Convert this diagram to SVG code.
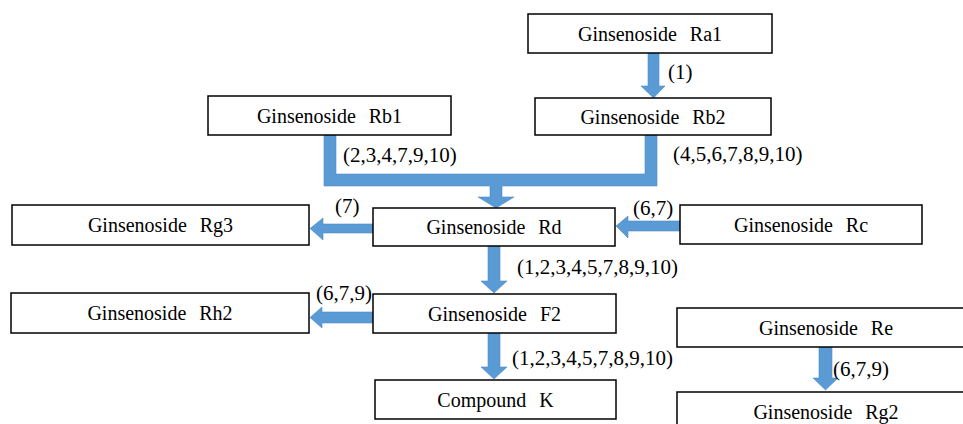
<svg xmlns="http://www.w3.org/2000/svg" width="963" height="424" viewBox="0 0 963 424">
<style>
.box{fill:#fff;stroke:#000;stroke-width:1.5}
.t{font-family:"Liberation Serif","Times New Roman",serif;font-size:20px;text-anchor:middle;fill:#000;word-spacing:8px}
.l{font-family:"Liberation Serif","Times New Roman",serif;font-size:21px;fill:#000}
.a{fill:#5B9BD5;stroke:#4F8CC6;stroke-width:0.6}
</style>
<rect width="963" height="424" fill="#fff"/>
<g id="connectors">
<path class="a" d="M648,53 H659 V86 H665 L653.5,98 L641,86 H648 Z"/>
<path class="a" d="M324,135 H336 V174 H645 V135 H657 V186 H502 V197 H514 L496,208 L478,197 H490 V186 H324 Z"/>
<path class="a" d="M373,224 V233 H323 V240 L310,228.5 L323,218 V224 Z"/>
<path class="a" d="M680,221 V231 H628 V238 L616,226 L628,216 V221 Z"/>
<path class="a" d="M488,246 H500 V281 H507 L494,293 L481,281 H488 Z"/>
<path class="a" d="M373,312 V323 H322 V328 L310,317.5 L322,307 V312 Z"/>
<path class="a" d="M488,333 H500 V367 H507 L494,379 L481,367 H488 Z"/>
<path class="a" d="M819,347 H832 V378 H838 L825.5,390 L813,378 H819 Z"/>
<text class="l" x="668" y="79">(1)</text>
<text class="l" x="343" y="162">(2,3,4,7,9,10)</text>
<text class="l" x="673" y="161">(4,5,6,7,8,9,10)</text>
<text class="l" x="335" y="213">(7)</text>
<text class="l" x="633" y="215">(6,7)</text>
<text class="l" x="517" y="274">(1,2,3,4,5,7,8,9,10)</text>
<text class="l" x="316" y="300">(6,7,9)</text>
<text class="l" x="512" y="365">(1,2,3,4,5,7,8,9,10)</text>
<text class="l" x="833" y="376">(6,7,9)</text>
</g>
<g id="ra1"><rect class="box" x="528" y="14" width="244" height="39"/><text class="t" x="650" y="40.5">Ginsenoside Ra1</text></g>
<g id="rb2"><rect class="box" x="535" y="98" width="236" height="37"/><text class="t" x="653" y="123.5">Ginsenoside Rb2</text></g>
<g id="rb1"><rect class="box" x="208" y="96" width="243" height="39"/><text class="t" x="329.5" y="122.5">Ginsenoside Rb1</text></g>
<g id="rg3"><rect class="box" x="12" y="205" width="297" height="40"/><text class="t" x="160.5" y="232">Ginsenoside Rg3</text></g>
<g id="rd"><rect class="box" x="373" y="208" width="242" height="38"/><text class="t" x="494" y="234">Ginsenoside Rd</text></g>
<g id="rc"><rect class="box" x="680" y="205" width="242" height="39"/><text class="t" x="801" y="231.5">Ginsenoside Rc</text></g>
<g id="rh2"><rect class="box" x="11" y="293" width="298" height="40"/><text class="t" x="160" y="320">Ginsenoside Rh2</text></g>
<g id="f2"><rect class="box" x="373" y="294" width="243" height="39"/><text class="t" x="494.5" y="320.5">Ginsenoside F2</text></g>
<g id="ck"><rect class="box" x="375" y="380" width="241" height="39"/><text class="t" x="495.5" y="406.5">Compound K</text></g>
<g id="re"><rect class="box" x="677" y="308" width="300" height="39"/><text class="t" x="826" y="334.5">Ginsenoside Re</text></g>
<g id="rg2"><rect class="box" x="677" y="392" width="300" height="40"/><text class="t" x="826" y="419">Ginsenoside Rg2</text></g>
</svg>
